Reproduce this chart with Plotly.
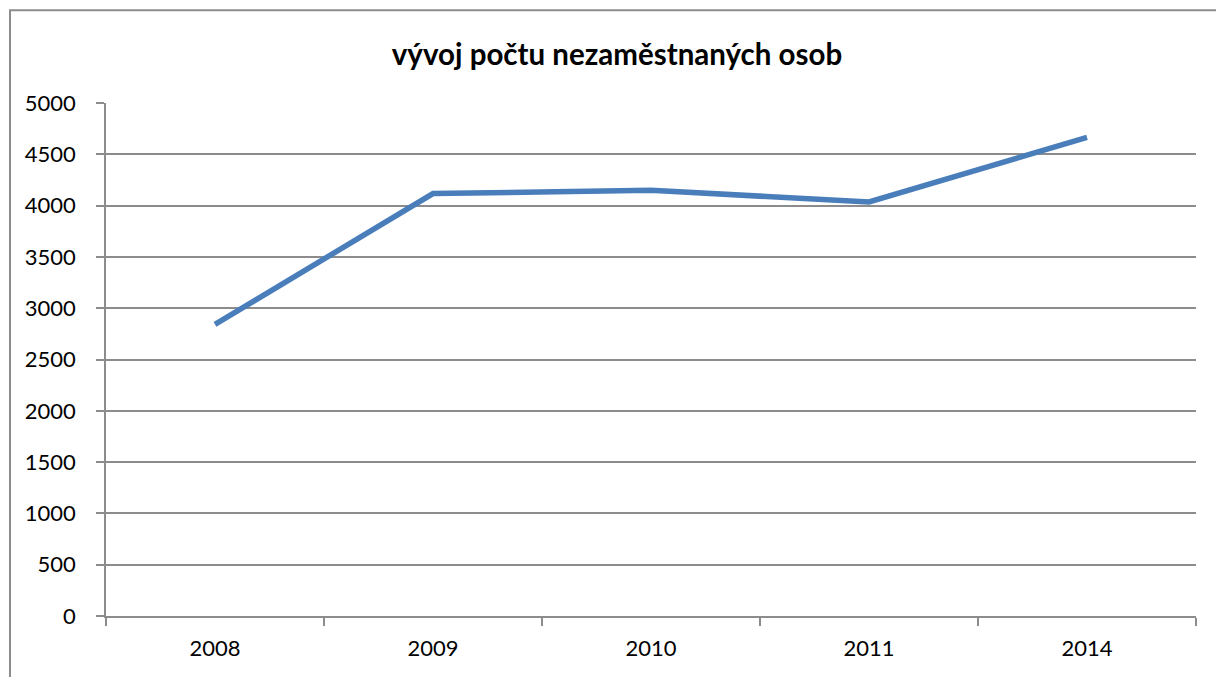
import plotly.graph_objects as go

years = ["2008", "2009", "2010", "2011", "2014"]
unemployed = [2843, 4117, 4149, 4035, 4666]
title_text = "vývoj počtu nezaměstnaných osob"

W, H = 1216, 677
L, R, T, B = 106, 1196, 102.7, 615.7
pw, ph = R - L, B - T

fig = go.Figure()
fig.add_trace(go.Scatter(
    x=years, y=unemployed, mode="lines",
    line=dict(color="#4A7EBB", width=5.5), hoverinfo="x+y", showlegend=False,
))

grid = "#8C8C8C"
fig.update_layout(
    width=W, height=H,
    margin=dict(l=L, r=W - R, t=T, b=H - B, pad=0),
    paper_bgcolor="white", plot_bgcolor="white",
    font=dict(family="Lato, Open Sans, sans-serif", size=22, color="#000000"),
    title=dict(text="<b>" + title_text + "</b>", x=617 / W, xanchor="center",
               y=1 - 55 / H, yanchor="middle",
               font=dict(size=29.5, family="Lato, Open Sans, sans-serif", color="#000000")),
    xaxis=dict(type="category", range=[-0.5, len(years) - 0.5], showgrid=False,
               showline=True, linecolor=grid, linewidth=1.5,
               ticks="outside", tickson="boundaries", ticklen=8, tickcolor=grid, tickwidth=1.5,
               ticklabelstandoff=12, zeroline=False),
    yaxis=dict(range=[0, 5000], dtick=500, tick0=0, showgrid=True, gridcolor=grid, gridwidth=1.5,
               showline=True, linecolor=grid, linewidth=1.5, ticks="outside", ticklen=8,
               tickcolor=grid, tickwidth=1.5, ticklabelstandoff=16, zeroline=False),
)

# outer chart border (extends beyond right/bottom edges)
fig.add_shape(type="rect", xref="paper", yref="paper",
              x0=(10 - L) / pw, x1=(W + 10 - L) / pw,
              y0=(B - (H + 10)) / ph, y1=(B - 10) / ph,
              line=dict(color="#8C8C8C", width=2), fillcolor="rgba(0,0,0,0)", layer="below")

fig.write_html("out.html", config={"displayModeBar": False},
               post_script="document.body.style.margin='0';")
